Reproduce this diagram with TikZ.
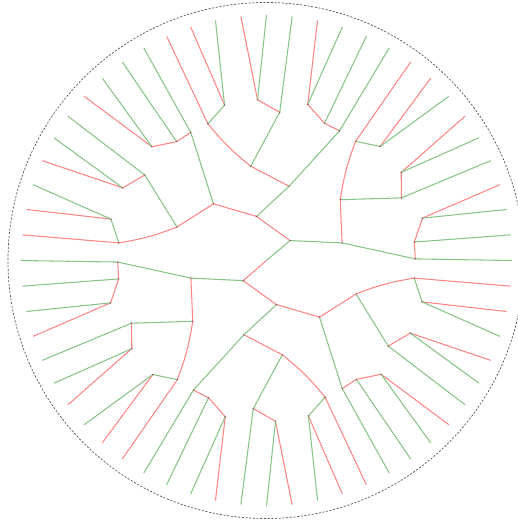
\documentclass[tikz,border=0pt]{standalone}
\usepackage{xcolor}
\usepackage{tikz}
\definecolor{LRed}{HTML}{FF8585}
\definecolor{LGreen}{HTML}{85C585}
\definecolor{DotDark}{HTML}{7F3F3F}
\definecolor{RimGray}{HTML}{555555}
\tikzset{
  rbr/.style={LRed,line width=.6pt},
  gbr/.style={LGreen,line width=.6pt},
  rim/.style={RimGray,line width=.4pt,dash pattern=on 1.2pt off .9pt}}
% one clade of ten leaves, turned by #1, names start with #2
\newcommand{\clade}[2]{%
  \begin{scope}[shift={(root)},rotate=#1]
    \coordinate (#2r) at (133.1:77.6);
    \coordinate (#2a) at (159.5:95.6);
    \coordinate (#2b) at (120.6:148.8);
    \coordinate (#2a1) at (173.2:148.8);
    \coordinate (#2a2) at (144.9:148.8);
    \coordinate (#2a11) at (165.1:161);
    \coordinate (#2a21) at (153.2:161);
    \coordinate (#2b1) at (127.1:149);
    \coordinate (#2b11) at (135.2:161.5);
    \foreach \i in {1,...,10}{\coordinate (#2t\i) at ({180-6*\i}:245.5);}
  \end{scope}
  \draw[rbr] (#2r) -- (#2a);
  \draw[gbr] (#2r) -- (#2b);
  \draw[rbr] (#2a) to[bend left=6] (#2a1);
  \draw[gbr] (#2a) -- (#2a2);
  \draw[rbr] (#2a1) -- (#2t1);
  \draw[gbr] (#2a1) -- (#2a11);
  \draw[rbr] (#2a11) -- (#2t2);
  \draw[gbr] (#2a11) -- (#2t3);
  \draw[rbr] (#2a2) -- (#2a21);
  \draw[gbr] (#2a2) -- (#2t6);
  \draw[rbr] (#2a21) -- (#2t4);
  \draw[gbr] (#2a21) -- (#2t5);
  \draw[rbr] (#2b) -- (#2b1);
  \draw[gbr] (#2b) -- (#2t10);
  \draw[rbr] (#2b1) -- (#2b11);
  \draw[gbr] (#2b1) -- (#2t9);
  \draw[rbr] (#2b11) -- (#2t7);
  \draw[gbr] (#2b11) -- (#2t8);
  \foreach \nd in {r,a,b,a1,a2,a11,a21,b1,b11}{\fill[DotDark] (#2\nd) circle (.4pt);}}

\begin{document}
\begin{tikzpicture}[x=0.02cm,y=0.02cm]
  \useasboundingbox (0,0) rectangle (518,522);
  \clip (0,0) rectangle (518,522);
  \coordinate (root) at (266.5,261.5);
  \draw[rim] (266,261.5) circle (258);
  \clade{0}{ca}
  \clade{-60}{cb}
  \clade{-120}{cc}
  \clade{-180}{cd}
  \clade{-240}{ce}
  \clade{-300}{cf}
  % upper levels
  \begin{scope}[shift={(root)}]
    \coordinate (h1) at (40.3:30.8);
    \coordinate (h2) at (220.8:30.8);
    \coordinate (q1) at (102.7:45.2);
    \coordinate (q2) at (282.7:45.2);
  \end{scope}
  \draw[gbr] (root) -- (h1);
  \draw[rbr] (root) -- (h2);
  \draw[rbr] (h1) -- (q1);
  \draw[gbr] (h1) -- (ccr);
  \draw[rbr] (q1) -- (car);
  \draw[gbr] (q1) -- (cbr);
  \draw[rbr] (h2) -- (q2);
  \draw[gbr] (h2) -- (cfr);
  \draw[rbr] (q2) -- (cdr);
  \draw[gbr] (q2) -- (cer);
  \foreach \nd in {h1,h2,q1,q2}{\fill[DotDark] (\nd) circle (.4pt);}
\end{tikzpicture}
\end{document}
